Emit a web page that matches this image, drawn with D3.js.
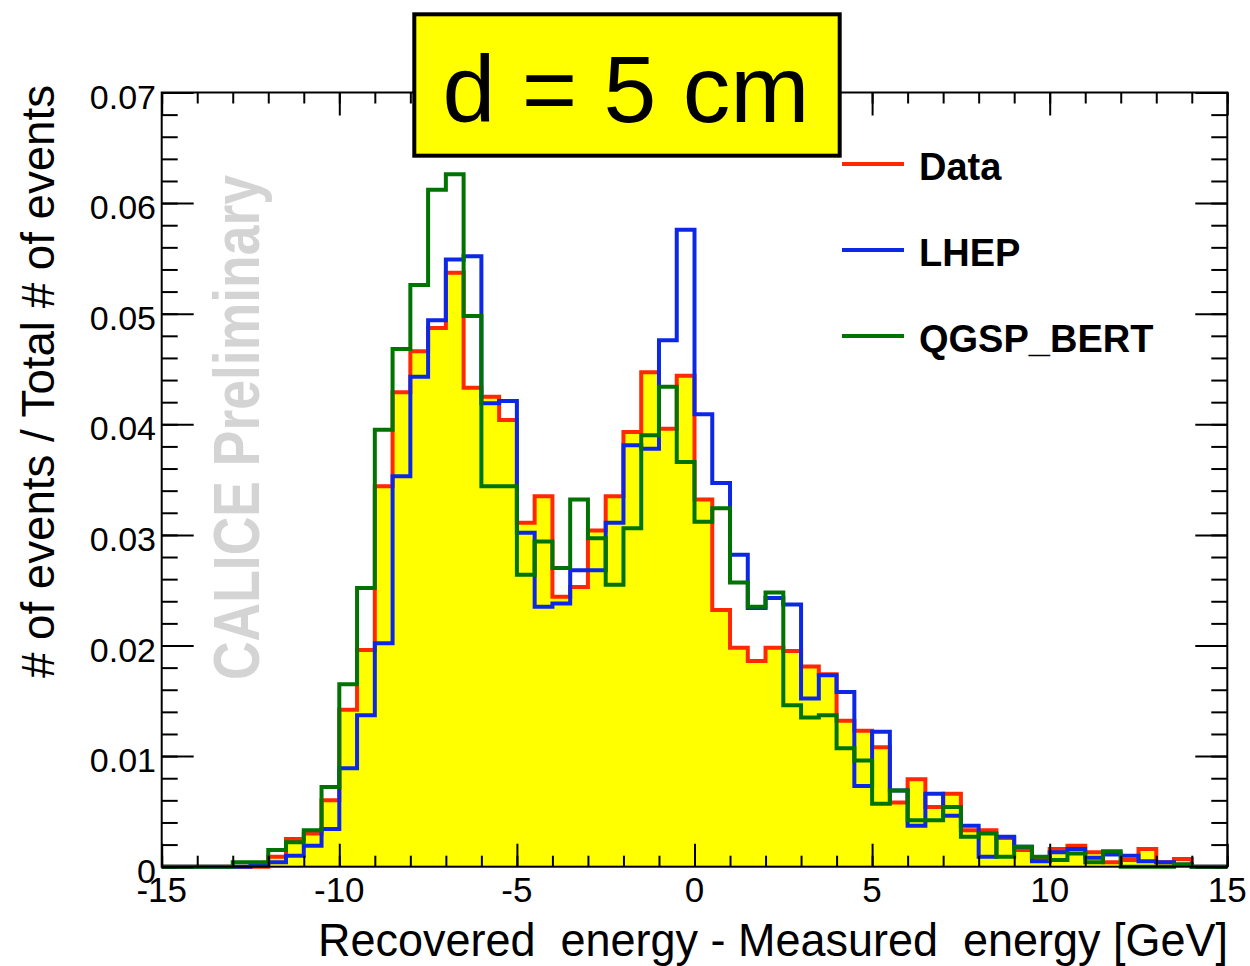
<!DOCTYPE html>
<html><head><meta charset="utf-8">
<script src="https://cdn.jsdelivr.net/npm/d3@7/dist/d3.min.js"></script>
<style>body{margin:0;background:#fff}svg{display:block}</style>
</head><body>
<svg id="chart" width="1250" height="966"></svg>
<script>
// ---------------- data ----------------
const xDomain = [-15, 15];
const binWidth = 0.5;
const yDomain = [0, 0.07];
const xMajorTicks = [-15, -10, -5, 0, 5, 10, 15];
const xTickLabels = ["-15", "-10", "-5", "0", "5", "10", "15"];
const yMajorTicks = [0, 0.01, 0.02, 0.03, 0.04, 0.05, 0.06, 0.07];
const yTickLabels = ["0", "0.01", "0.02", "0.03", "0.04", "0.05", "0.06", "0.07"];
const seriesNames = ["Data", "LHEP", "QGSP_BERT"];
const titleText = "d = 5 cm";
const xTitle = "Recovered  energy - Measured  energy [GeV]";
const yTitle = "# of events / Total # of events";
const watermark = "CALICE Preliminary";

const dataValues = [
  0, 0, 0, 0, 0, 0, 0.0009, 0.0025, 0.0030, 0.0060,
  0.0142, 0.0196, 0.0344, 0.0429, 0.0466, 0.0487, 0.0537, 0.0433, 0.0425, 0.0404,
  0.0311, 0.0335, 0.0244, 0.0253, 0.0304, 0.0335, 0.0393, 0.0447, 0.0396, 0.0444,
  0.0332, 0.0232, 0.0198, 0.0186, 0.0198, 0.0195, 0.0181, 0.0174, 0.0132, 0.0123,
  0.0108, 0.0058, 0.0079, 0.0054, 0.0066, 0.0033, 0.0033, 0.0026, 0.0015, 0.0007,
  0.0016, 0.0019, 0.0013, 0.0004, 0.0006, 0.0016, 0.0004, 0.0007, 0, 0
];
const lhepValues = [
  0, 0, 0, 0, 0, 0.0002, 0.0004, 0.0010, 0.0019, 0.0034,
  0.0089, 0.0137, 0.0202, 0.0353, 0.0443, 0.0494, 0.0549, 0.0552, 0.0419, 0.0421,
  0.0302, 0.0235, 0.0238, 0.0268, 0.0268, 0.0311, 0.0381, 0.0378, 0.0476, 0.0576,
  0.0409, 0.0347, 0.0282, 0.0234, 0.0243, 0.0237, 0.0152, 0.0173, 0.0158, 0.0073,
  0.0122, 0.0069, 0.0037, 0.0066, 0.0046, 0.0037, 0.0009, 0.0027, 0.0018, 0.0005,
  0.0013, 0.0016, 0.0008, 0.0011, 0.0010, 0.0005, 0.0004, 0.0002, 0, 0
];
const qgspValues = [
  0, 0, 0, 0, 0.0004, 0.0004, 0.0015, 0.0022, 0.0033, 0.0072,
  0.0165, 0.0252, 0.0395, 0.0468, 0.0526, 0.0612, 0.0626, 0.0498, 0.0344, 0.0344,
  0.0264, 0.0294, 0.0270, 0.0332, 0.0297, 0.0255, 0.0306, 0.0390, 0.0434, 0.0366,
  0.0312, 0.0324, 0.0257, 0.0235, 0.0248, 0.0146, 0.0135, 0.0137, 0.0107, 0.0096,
  0.0057, 0.0069, 0.0042, 0.0042, 0.0054, 0.0027, 0.0030, 0.0009, 0.0018, 0.0009,
  0.0006, 0.0012, 0.0004, 0.0014, 0, 0, 0, 0.0002, 0, 0
];

// ---------------- styles ----------------
const colors = { data: "rgb(255,40,0)", lhep: "rgb(12,40,228)", qgsp: "rgb(0,115,0)", fill: "#ffff00" };
const font = "'Liberation Sans', Arial, Helvetica, sans-serif";

const svg = d3.select("#chart");
const x = d3.scaleLinear().domain(xDomain).range([161.7, 1227.3]);
const y = d3.scaleLinear().domain(yDomain).range([866.7, 92.5]);

function stepPoints(vals) {
  const pts = vals.map((v, i) => [xDomain[0] + i * binWidth, v]);
  pts.push([xDomain[0] + vals.length * binWidth, vals[vals.length - 1]]);
  return pts;
}
const line = d3.line().x(d => x(d[0])).y(d => y(d[1])).curve(d3.curveStepAfter);
const area = d3.area().x(d => x(d[0])).y0(y(0)).y1(d => y(d[1])).curve(d3.curveStepAfter);

// watermark
svg.append("text")
  .attr("transform", `translate(259,680) rotate(-90)`)
  .attr("font-family", font).attr("font-weight", "bold")
  .attr("font-size", 64).attr("fill", "#d4d4d4")
  .attr("textLength", 505).attr("lengthAdjust", "spacingAndGlyphs")
  .text(watermark);

// data fill + histograms
svg.append("path").attr("d", area(stepPoints(dataValues))).attr("fill", colors.fill);
[[dataValues, colors.data], [lhepValues, colors.lhep], [qgspValues, colors.qgsp]].forEach(([vals, c]) => {
  svg.append("path").attr("d", line(stepPoints(vals)))
    .attr("fill", "none").attr("stroke", c).attr("stroke-width", 4)
    .attr("stroke-linejoin", "miter").attr("stroke-linecap", "butt");
});

// axes ticks (inward)
const xMinor = d3.range(xDomain[0], xDomain[1] + 0.001, 1);
const yMinor = d3.range(0, 0.0701, 0.002);
function tickAxis(gen, vals, size, tr) {
  const g = svg.append("g").attr("transform", tr)
    .call(gen.tickValues(vals).tickSize(size).tickSizeOuter(0).tickFormat(""));
  g.select(".domain").remove();
  g.selectAll(".tick line").attr("stroke", "#000").attr("stroke-width", 2);
}
tickAxis(d3.axisBottom(x), xMinor, -11, `translate(0,${y(0)})`);
tickAxis(d3.axisBottom(x), xMajorTicks, -23, `translate(0,${y(0)})`);
tickAxis(d3.axisTop(x), xMinor, -11, `translate(0,${y(0.07)})`);
tickAxis(d3.axisTop(x), xMajorTicks, -23, `translate(0,${y(0.07)})`);
tickAxis(d3.axisLeft(y), yMinor, -16, `translate(${x(-15)},0)`);
tickAxis(d3.axisLeft(y), yMajorTicks, -32, `translate(${x(-15)},0)`);
tickAxis(d3.axisRight(y), yMinor, -16, `translate(${x(15)},0)`);
tickAxis(d3.axisRight(y), yMajorTicks, -32, `translate(${x(15)},0)`);

// frame
svg.append("rect").attr("x", x(-15)).attr("y", y(0.07))
  .attr("width", x(15) - x(-15)).attr("height", y(0) - y(0.07))
  .attr("fill", "none").attr("stroke", "#000").attr("stroke-width", 2);

// tick labels
svg.append("g").selectAll("text").data(yMajorTicks).join("text")
  .attr("x", 156).attr("y", d => y(d) + 16)
  .attr("text-anchor", "end").attr("font-family", font).attr("font-size", 34)
  .text((d, i) => yTickLabels[i]);
svg.append("g").selectAll("text").data(xMajorTicks).join("text")
  .attr("x", d => x(d)).attr("y", 902)
  .attr("text-anchor", "middle").attr("font-family", font).attr("font-size", 35)
  .text((d, i) => xTickLabels[i]);

// axis titles
svg.append("text").attr("x", 1228).attr("y", 956)
  .attr("text-anchor", "end").attr("font-family", font).attr("font-size", 46)
  .style("white-space", "pre")
  .attr("textLength", 910).attr("lengthAdjust", "spacingAndGlyphs")
  .text(xTitle);
svg.append("text").attr("transform", `translate(54,678) rotate(-90)`)
  .attr("font-family", font).attr("font-size", 46)
  .attr("textLength", 593).attr("lengthAdjust", "spacingAndGlyphs")
  .text(yTitle);

// title box
svg.append("rect").attr("x", 414.3).attr("y", 14.3).attr("width", 425.4).attr("height", 141.4)
  .attr("fill", "#ffff00").attr("stroke", "#000").attr("stroke-width", 4);
svg.append("text").attr("x", 626).attr("y", 122)
  .attr("text-anchor", "middle").attr("font-family", font).attr("font-size", 95)
  .text(titleText);

// legend
const legendColors = [colors.data, colors.lhep, colors.qgsp];
const legendY = [164, 250, 336];
seriesNames.forEach((n, i) => {
  svg.append("line").attr("x1", 842).attr("x2", 904).attr("y1", legendY[i]).attr("y2", legendY[i])
    .attr("stroke", legendColors[i]).attr("stroke-width", 4);
  svg.append("text").attr("x", 919).attr("y", legendY[i] + 15.5)
    .attr("font-family", font).attr("font-weight", "bold").attr("font-size", 38)
    .text(n);
});
</script>
</body></html>
